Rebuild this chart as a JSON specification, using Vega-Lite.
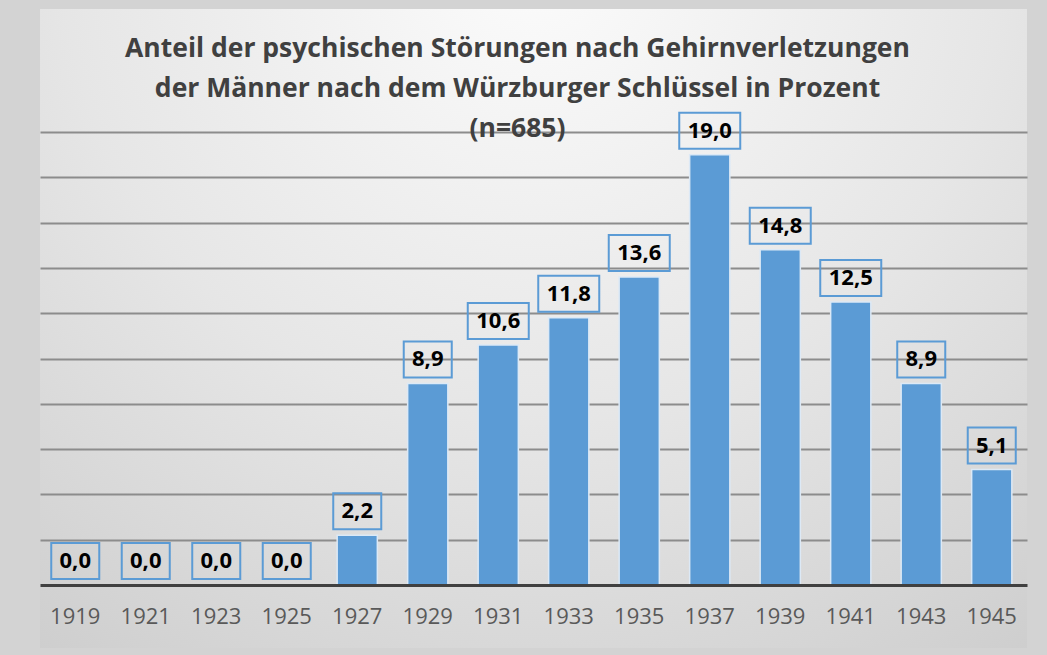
{
  "$schema": "https://vega.github.io/schema/vega-lite/v6.json",
  "width": 1047,
  "height": 655,
  "autosize": {"type": "fit", "contains": "padding"},
  "padding": {"left": 40, "right": 20, "top": 9, "bottom": 7},
  "background": "#d3d3d3",
  "config": {
    "font": "Open Sans",
    "view": {
      "stroke": null,
      "fill": {
        "gradient": "radial",
        "x1": 0.5, "y1": 0.12, "r1": 0,
        "x2": 0.5, "y2": 0.12, "r2": 0.95,
        "stops": [
          {"offset": 0, "color": "#fcfcfc"},
          {"offset": 0.5, "color": "#e6e6e6"},
          {"offset": 1, "color": "#c9c9c9"}
        ]
      }
    },
    "locale": {"number": {"decimal": ",", "thousands": ".", "grouping": [3], "currency": ["", " €"]}}
  },
  "title": {
    "text": ["Anteil der psychischen Störungen nach  Gehirnverletzungen", "der Männer nach dem Würzburger Schlüssel in Prozent", "(n=685)"],
    "anchor": "middle",
    "frame": "group",
    "orient": "top",
    "baseline": "top",
    "offset": -133,
    "dx": -16,
    "fontSize": 26.5,
    "fontWeight": "bold",
    "font": "Open Sans",
    "color": "#404040",
    "lineHeight": 40
  },
  "data": {
    "values": [
      {"Jahr": "1919", "Wert": 0.0},
      {"Jahr": "1921", "Wert": 0.0},
      {"Jahr": "1923", "Wert": 0.0},
      {"Jahr": "1925", "Wert": 0.0},
      {"Jahr": "1927", "Wert": 2.2},
      {"Jahr": "1929", "Wert": 8.9},
      {"Jahr": "1931", "Wert": 10.6},
      {"Jahr": "1933", "Wert": 11.8},
      {"Jahr": "1935", "Wert": 13.6},
      {"Jahr": "1937", "Wert": 19.0},
      {"Jahr": "1939", "Wert": 14.8},
      {"Jahr": "1941", "Wert": 12.5},
      {"Jahr": "1943", "Wert": 8.9},
      {"Jahr": "1945", "Wert": 5.1}
    ]
  },
  "encoding": {
    "x": {
      "field": "Jahr",
      "type": "ordinal",
      "scale": {"paddingInner": 0.43, "paddingOuter": 0.215},
      "axis": {
        "title": null,
        "labelAngle": 0,
        "ticks": false,
        "domainColor": "#404040",
        "domainWidth": 3,
        "labelColor": "#595959",
        "labelFontSize": 22,
        "labelFont": "Open Sans",
        "labelPadding": 21,
        "offset": -63,
        "zindex": 1
      }
    }
  },
  "layer": [
    {
      "transform": [{"filter": "datum.Wert > 0"}],
      "mark": {"type": "bar", "color": "#5B9BD5", "stroke": "#dce9f6", "strokeWidth": 1.5},
      "encoding": {
        "y": {
          "field": "Wert",
          "type": "quantitative",
          "scale": {"domain": [-2.78, 25.43], "nice": false},
          "axis": {
            "values": [2, 4, 6, 8, 10, 12, 14, 16, 18, 20],
            "grid": true,
            "gridColor": "#8c8c8c",
            "gridWidth": 2,
            "labels": false,
            "ticks": false,
            "domain": false,
            "title": null
          }
        }
      }
    },
    {
      "mark": {"type": "point", "filled": false, "stroke": "#5B9BD5", "color": "#5B9BD5", "strokeWidth": 2, "opacity": 1, "size": 3721, "yOffset": -24},
      "encoding": {
        "y": {"field": "Wert", "type": "quantitative"},
        "shape": {
          "condition": {"test": "datum.Wert >= 10", "value": "M-1,-0.59H1V0.59H-1Z"},
          "value": "M-0.787,-0.59H0.787V0.59H-0.787Z"
        }
      }
    },
    {
      "mark": {"type": "text", "fontSize": 22, "fontWeight": "bold", "font": "Open Sans", "color": "#000000", "yOffset": -24, "baseline": "middle"},
      "encoding": {
        "y": {"field": "Wert", "type": "quantitative"},
        "text": {"field": "Wert", "type": "quantitative", "format": ".1f"}
      }
    }
  ]
}
